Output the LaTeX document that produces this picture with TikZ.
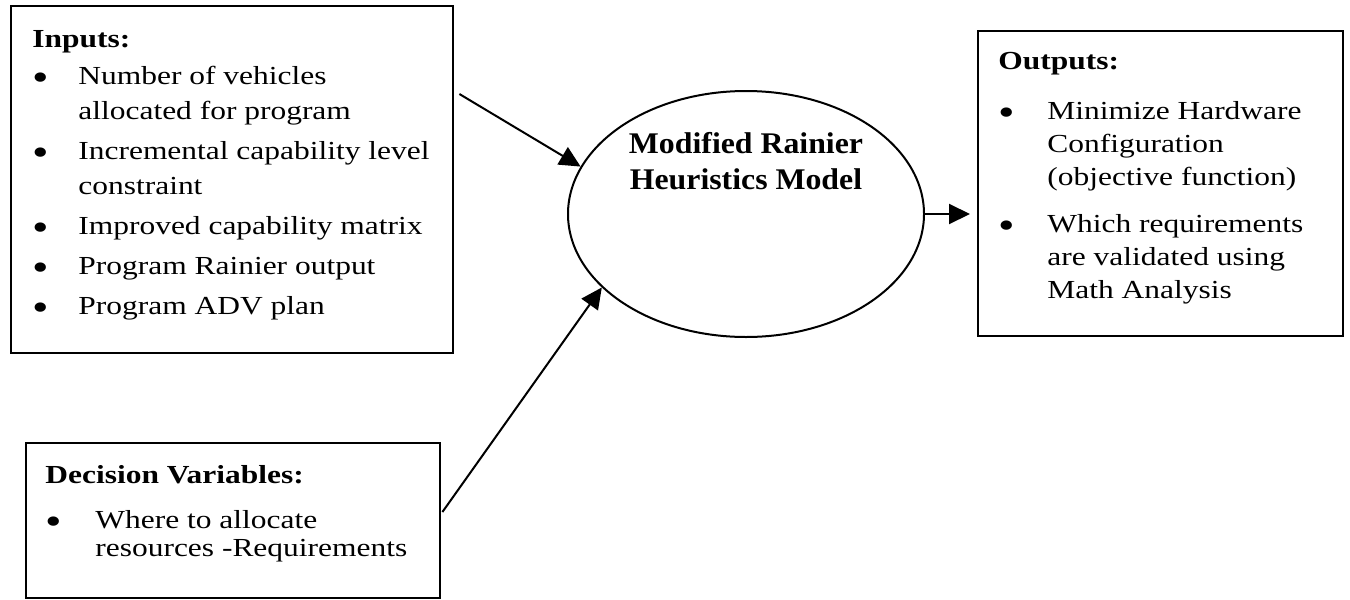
\documentclass[tikz,border=0pt]{standalone}
\usepackage{fontspec}
\setmainfont{Liberation Serif}[FakeStretch=1.21]
\newfontfamily\modelfont{Liberation Serif}[FakeStretch=1.06]
\usetikzlibrary{arrows.meta,shapes.geometric,calc}

% bullet column of a list line, and the matching indent for continued lines
\newlength\bulind
\newcommand\bul{\makebox[\bulind][l]{\raisebox{-3.4pt}{\scalebox{1.5}{\textbullet}}}}
\newcommand\cont{\hspace*{\bulind}}

\begin{document}
\begin{tikzpicture}[x=0.5pt,y=-0.5pt,
  frame/.style={draw,line width=1.2pt,rectangle,inner sep=0pt,anchor=north west},
  listtext/.style={inner sep=0pt,anchor=base west,align=left},
  conn/.style={line width=1pt,-{Triangle[length=10.5pt,width=10pt]}}]
\useasboundingbox (0,0) rectangle (1350,600);

% boxes
\node[frame,minimum width=221pt,minimum height=173.5pt] (inputs) at (10,5) {};
\node[frame,minimum width=182.5pt,minimum height=152.5pt] (outputs) at (977,30) {};
\node[frame,minimum width=207pt,minimum height=77.5pt] (decision) at (25,442) {};

% model
\node[draw,ellipse,line width=1pt,inner sep=0pt,
      minimum width=178pt,minimum height=123pt] (model) at (746,214) {};
\node[inner sep=0pt,anchor=base,align=center,
      font={\modelfont\fontsize{15pt}{18pt}\selectfont\bfseries}] (modeltext) at (746,189)
  {Modified Rainier\\Heuristics Model};

% box contents
\node[listtext] (inputs-text) at (32,47) {\parbox[t]{300pt}{\raggedright
  \fontsize{13pt}{17.5pt}\selectfont\setlength\bulind{23pt}%
  \textbf{Inputs:}\\[1pt]
  \bul Number of vehicles\\
  \cont allocated for program\\[2.5pt]
  \bul Incremental capability level\\
  \cont constraint\\[2.5pt]
  \bul Improved capability matrix\\[2.5pt]
  \bul Program Rainier output\\[2.5pt]
  \bul Program ADV plan}};

\node[listtext] (outputs-text) at (998,69) {\parbox[t]{300pt}{\raggedright
  \fontsize{13pt}{16.5pt}\selectfont\setlength\bulind{24.5pt}%
  \textbf{Outputs:}\\[8.5pt]
  \bul Minimize Hardware\\
  \cont Configuration\\
  \cont (objective function)\\[7pt]
  \bul Which requirements\\
  \cont are validated using\\
  \cont Math Analysis}};

\node[listtext] (decision-text) at (45,483) {\parbox[t]{300pt}{\raggedright
  \fontsize{13pt}{14pt}\selectfont\setlength\bulind{25pt}%
  \textbf{Decision Variables:}\\[8.5pt]
  \bul Where to allocate\\
  \cont resources -Requirements}};

% connectors
\draw[conn] ($(inputs.north east)+(5,89)$) -- (model.164);
\draw[conn] ($(decision.north east)+(1,70)$) -- (model.207);
\draw[conn,shorten >=3.5pt] (model.east) -- (model.east -| outputs.west);
\end{tikzpicture}
\end{document}
